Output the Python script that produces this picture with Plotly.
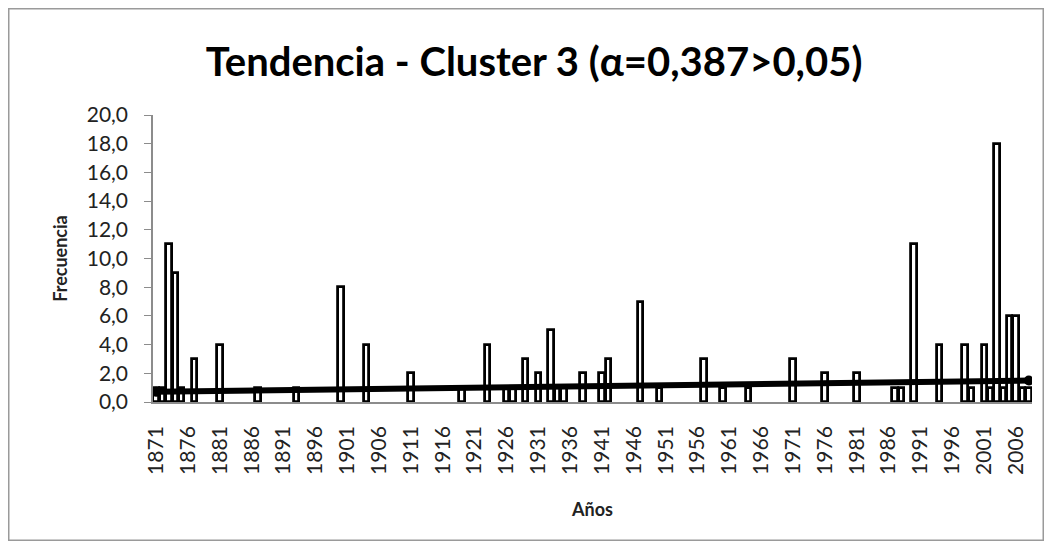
import numpy as np
import plotly.graph_objects as go

# ---- data ----
years_all = list(range(1871, 2009))
bar_years = [1871, 1872, 1873, 1874, 1875, 1877, 1881, 1887, 1893, 1900, 1904, 1911,
             1919, 1923, 1926, 1927, 1929, 1931, 1933, 1934, 1935, 1938, 1941, 1942,
             1947, 1950, 1957, 1960, 1964, 1971, 1976, 1981, 1987, 1988, 1990, 1994,
             1998, 1999, 2001, 2002, 2003, 2004, 2005, 2006, 2007, 2008]
bar_values = [1, 1, 11, 9, 1, 3, 4, 1, 1, 8, 4, 2,
              1, 4, 1, 1, 3, 2, 5, 1, 1, 2, 2, 3,
              7, 1, 3, 1, 1, 3, 2, 2, 1, 1, 11, 4,
              4, 1, 4, 1, 18, 1, 6, 6, 1, 1]
tick_years = list(range(1871, 2007, 5))
tick_labels = [str(y) for y in tick_years]
y_ticks = list(range(0, 21, 2))

# full yearly series (years without events = 0) for the linear trend
lookup = dict(zip(bar_years, bar_values))
freq_all = np.array([lookup.get(y, 0) for y in years_all], dtype=float)
slope, intercept = np.polyfit(years_all, freq_all, 1)
trend = slope * np.array(years_all) + intercept

W, H = 1036, 533
L, R, T, B = 145, 12, 107, 139
pw, ph = W - L - R, H - T - B

fig = go.Figure()
fig.add_trace(go.Bar(
    x=bar_years, y=bar_values, width=0.85,
    marker=dict(color="white", line=dict(color="black", width=2.8)),
    showlegend=False,
))
fig.add_trace(go.Scatter(
    x=years_all, y=trend, mode="lines",
    line=dict(color="black", width=6),
    showlegend=False,
))
fig.add_trace(go.Scatter(
    x=[years_all[0], years_all[-1]], y=[trend[0], trend[-1]], mode="markers",
    marker=dict(symbol="circle", size=10, color="black"),
    showlegend=False,
))

fig.update_layout(
    width=W, height=H,
    margin=dict(l=L, r=R, t=T, b=B),
    paper_bgcolor="white", plot_bgcolor="white",
    separators=",.",
    font=dict(family="Lato", color="#222222"),
    title=dict(text="<b>Tendencia - Cluster 3 (α=0,387>0,05)</b>",
               x=526 / W, xanchor="center",
               y=1 - 54 / H, yanchor="middle",
               font=dict(size=40, color="black", family="Lato")),
    bargap=0,
)
fig.update_xaxes(
    range=[1870.5, 2008.5],
    tickmode="array", tickvals=tick_years, ticktext=tick_labels,
    tickangle=-90, tickfont=dict(size=21, color="#222222"),
    ticklabelstandoff=14,
    showline=True, linecolor="#8c8c8c", linewidth=1.5,
    showgrid=False, zeroline=False, ticks="",
    title=dict(text="<b>Años</b>", font=dict(size=18, color="#222222"), standoff=30),
)
fig.update_yaxes(
    range=[0, 20], tickmode="array", tickvals=y_ticks, tickformat=".1f",
    tickfont=dict(size=21, color="#222222"),
    ticklabelstandoff=12,
    showline=True, linecolor="#8c8c8c", linewidth=1.5,
    ticks="outside", ticklen=7, tickcolor="#8c8c8c",
    showgrid=False, zeroline=False,
    title=dict(text="<b>Frecuencia</b>", font=dict(size=18, color="#222222"), standoff=14),
)
# outer chart border
fig.add_shape(type="rect", xref="paper", yref="paper",
              x0=(0.75 - L) / pw, x1=(W - 0.75 - L) / pw,
              y0=-(B - 0.75) / ph, y1=1 + (T - 0.75) / ph,
              line=dict(color="#9a9a9a", width=1.5), fillcolor="rgba(0,0,0,0)", layer="below")

fig.write_html("out.html")
